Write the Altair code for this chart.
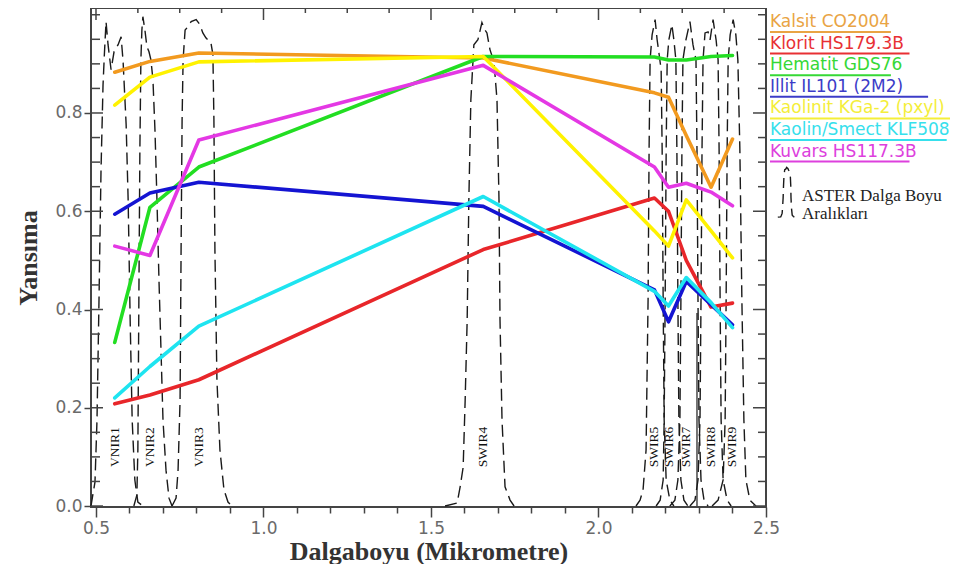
import altair as alt
import pandas as pd

# ---------------- data ----------------
band_names = ["VNIR1", "VNIR2", "VNIR3", "SWIR4", "SWIR5", "SWIR6", "SWIR7", "SWIR8", "SWIR9"]
band_center = [0.556, 0.661, 0.807, 1.656, 2.167, 2.209, 2.262, 2.336, 2.400]

minerals = ["Kalsit CO2004", "Klorit HS179.3B", "Hematit GDS76", "Illit IL101 (2M2)",
            "Kaolinit KGa-2 (pxyl)", "Kaolin/Smect KLF508", "Kuvars HS117.3B"]
line_colors = ["#F29A1F", "#E8262A", "#22DE22", "#1414D2", "#FFF200", "#1EE4F0", "#E438E4"]
text_colors = ["#E9A444", "#E83034", "#36D836", "#3C3CC8", "#F4EE3A", "#36E0EC", "#DD40DD"]

kalsit   = [0.883, 0.905, 0.922, 0.912, 0.841, 0.832, 0.754, 0.649, 0.747]
klorit   = [0.208, 0.226, 0.257, 0.522, 0.627, 0.600, 0.500, 0.405, 0.413]
hematit  = [0.333, 0.608, 0.690, 0.915, 0.914, 0.908, 0.908, 0.915, 0.917]
illit    = [0.594, 0.637, 0.659, 0.610, 0.440, 0.375, 0.457, 0.410, 0.369]
kaolinit = [0.816, 0.873, 0.904, 0.915, 0.560, 0.529, 0.623, 0.560, 0.505]
kaolsme  = [0.220, 0.284, 0.366, 0.630, 0.437, 0.407, 0.465, 0.414, 0.363]
kuvars   = [0.529, 0.510, 0.745, 0.897, 0.690, 0.649, 0.657, 0.639, 0.611]
series = [kalsit, klorit, hematit, illit, kaolinit, kaolsme, kuvars]

# ASTER band response curves (dashed)
vnir1_x = [0.485, 0.497, 0.503, 0.509, 0.515, 0.521, 0.525, 0.530, 0.536, 0.545, 0.554, 0.566, 0.575,
           0.581, 0.590, 0.596, 0.602, 0.608, 0.616, 0.625, 0.640]
vnir1_y = [0, 0.049, 0.175, 0.42, 0.684, 0.857, 0.919, 0.986, 0.939, 0.888, 0.925, 0.939, 0.955,
           0.904, 0.776, 0.623, 0.379, 0.175, 0.053, 0.008, 0]
vnir2_x = [0.613, 0.622, 0.625, 0.628, 0.631, 0.634, 0.637, 0.640, 0.646, 0.652, 0.658, 0.664, 0.670,
           0.676, 0.682, 0.688, 0.694, 0.700, 0.709, 0.718, 0.727]
vnir2_y = [0, 0.022, 0.114, 0.42, 0.725, 0.908, 0.969, 0.996, 0.969, 0.935, 0.925, 0.908, 0.868,
           0.766, 0.623, 0.46, 0.318, 0.175, 0.073, 0.016, 0]
vnir3_x = [0.727, 0.739, 0.745, 0.751, 0.754, 0.757, 0.760, 0.766, 0.775, 0.784, 0.799, 0.810, 0.819,
           0.828, 0.834, 0.843, 0.849, 0.852, 0.855, 0.861, 0.870, 0.882, 0.894, 0.906]
vnir3_y = [0, 0.016, 0.073, 0.216, 0.521, 0.786, 0.908, 0.969, 0.976, 0.986, 0.99, 0.98, 0.963,
           0.953, 0.949, 0.943, 0.919, 0.786, 0.521, 0.257, 0.114, 0.033, 0.008, 0]
swir4_x = [1.542, 1.578, 1.587, 1.596, 1.602, 1.608, 1.613, 1.619, 1.628, 1.640, 1.652, 1.661, 1.667,
           1.676, 1.688, 1.697, 1.703, 1.706, 1.712, 1.721, 1.736, 1.748]
swir4_y = [0, 0.006, 0.039, 0.079, 0.216, 0.379, 0.623, 0.827, 0.939, 0.949, 0.984, 0.969, 0.963,
           0.929, 0.904, 0.827, 0.623, 0.379, 0.175, 0.039, 0.012, 0]
swir5_x = [2.112, 2.124, 2.133, 2.142, 2.148, 2.151, 2.154, 2.160, 2.169, 2.175, 2.181, 2.187, 2.190,
           2.193, 2.196, 2.202, 2.213, 2.225]
swir5_y = [0, 0.012, 0.033, 0.114, 0.42, 0.725, 0.908, 0.959, 0.99, 0.949, 0.919, 0.888, 0.725,
           0.42, 0.175, 0.053, 0.012, 0]
swir6_x = [2.172, 2.184, 2.193, 2.196, 2.199, 2.202, 2.205, 2.210, 2.219, 2.225, 2.231, 2.234, 2.237,
           2.240, 2.246, 2.255, 2.267]
swir6_y = [0, 0.012, 0.053, 0.175, 0.42, 0.725, 0.908, 0.949, 0.98, 0.949, 0.908, 0.725, 0.42,
           0.175, 0.053, 0.012, 0]
swir7_x = [2.213, 2.228, 2.237, 2.243, 2.246, 2.249, 2.252, 2.261, 2.273, 2.282, 2.291, 2.294, 2.297,
           2.300, 2.306, 2.315, 2.327]
swir7_y = [0, 0.012, 0.053, 0.175, 0.42, 0.725, 0.908, 0.949, 0.986, 0.939, 0.908, 0.725, 0.42,
           0.175, 0.053, 0.012, 0]
swir8_x = [2.273, 2.288, 2.297, 2.303, 2.306, 2.309, 2.312, 2.318, 2.327, 2.333, 2.342, 2.351, 2.357,
           2.360, 2.363, 2.366, 2.372, 2.384, 2.396]
swir8_y = [0, 0.012, 0.053, 0.175, 0.42, 0.725, 0.908, 0.963, 0.965, 0.949, 0.99, 0.949, 0.908,
           0.725, 0.42, 0.175, 0.053, 0.012, 0]
swir9_x = [2.339, 2.357, 2.372, 2.378, 2.381, 2.384, 2.387, 2.393, 2.402, 2.410, 2.416, 2.422, 2.428,
           2.434, 2.440, 2.452, 2.470]
swir9_y = [0, 0.012, 0.053, 0.175, 0.42, 0.725, 0.908, 0.959, 0.99, 0.959, 0.908, 0.725, 0.42,
           0.175, 0.053, 0.012, 0]
curves_x = [vnir1_x, vnir2_x, vnir3_x, swir4_x, swir5_x, swir6_x, swir7_x, swir8_x, swir9_x]
curves_y = [vnir1_y, vnir2_y, vnir3_y, swir4_y, swir5_y, swir6_y, swir7_y, swir8_y, swir9_y]

# solid segment visible between SWIR7 and SWIR8
solid_x = [2.294, 2.294]
solid_y = [0.0, 0.393]

# axis ticks
x_ticks = [round(0.5 + 0.1 * i, 2) for i in range(21)]
y_ticks = [round(0.05 * i, 2) for i in range(21)]
top_ticks = [round(0.5 + 0.125 * i, 3) for i in range(17)]

aster_lines = ["ASTER Dalga Boyu", "Aralıkları"]

# ---------------- tables ----------------
mrows = []
for name, vals in zip(minerals, series):
    for k, (cx, v) in enumerate(zip(band_center, vals)):
        mrows.append({"name": name, "x": cx, "y": v, "k": k})
mineral_df = pd.DataFrame(mrows)

brows = []
for b, xs_, ys_ in zip(band_names, curves_x, curves_y):
    for i, (a, c) in enumerate(zip(xs_, ys_)):
        brows.append({"band": b, "x": a, "y": c, "i": i})
band_df = pd.DataFrame(brows)

label_df = pd.DataFrame({"band": band_names, "c": band_center})
solid_df = pd.DataFrame({"x": solid_x, "y": solid_y})
leg_df = pd.DataFrame({"name": minerals, "tc": text_colors, "i": list(range(len(minerals)))})
xt_df = pd.DataFrame({"v": top_ticks})
yt_df = pd.DataFrame({"v": y_ticks})

# ---------------- scales / axes ----------------
XMIN, XMAX = 0.4851, 2.5
YMIN, YMAX = -0.002, 1.0137
W, H = 675, 499
PXY = (YMAX - YMIN) / H
PXX = (XMAX - XMIN) / W

xs = alt.Scale(domain=[XMIN, XMAX], nice=False, zero=False)
ys = alt.Scale(domain=[YMIN, YMAX], nice=False, zero=False)

MAJ_X = "abs(datum.value*2 - round(datum.value*2)) < 0.001"
MAJ_Y = "abs(datum.value*5 - round(datum.value*5)) < 0.001 && datum.value < 0.99"

x_axis = alt.Axis(
    values=x_ticks, labelExpr=f"({MAJ_X}) ? format(datum.value, '.1f') : ''",
    tickSize={"condition": {"test": MAJ_X, "value": 10}, "value": 6},
    tickColor="#444", tickWidth=1.5, domain=False, grid=False,
    labelFont="DejaVu Sans", labelFontSize=17, labelColor="#6a6a6a", labelPadding=3,
    labelFlush=False, labelOverlap=False,
    title="Dalgaboyu (Mikrometre)", titleFont="Liberation Serif", titleFontWeight="bold",
    titleFontSize=26, titleColor="#333", titleX=W / 2, titleY=44, titleBaseline="middle",
    titleAlign="center",
)
y_axis = alt.Axis(
    values=y_ticks, labelExpr=f"({MAJ_Y}) ? format(datum.value, '.1f') : ''",
    tickSize={"condition": {"test": MAJ_Y, "value": 7}, "value": 0},
    tickColor="#444", tickWidth=1.5, domain=False, grid=False,
    labelFont="DejaVu Sans", labelFontSize=17, labelColor="#6a6a6a", labelPadding=2,
    labelFlush=False, labelOverlap=False,
    title="Yansıma", titleFont="Liberation Serif", titleFontWeight="bold",
    titleFontSize=26, titleColor="#333", titleX=-63, titleY=H / 2, titleAngle=270,
    titleBaseline="middle", titleAlign="center",
)


def X(f):
    return alt.X(f"{f}:Q", scale=xs, axis=x_axis)


def Y(f):
    return alt.Y(f"{f}:Q", scale=ys, axis=y_axis)


# ---------------- layers ----------------
bands = alt.Chart(band_df).mark_line(color="#1a1a1a", strokeWidth=1.4, strokeDash=[12, 6]).encode(
    x=X("x"), y=Y("y"), detail="band:N", order="i:Q")

solid = alt.Chart(solid_df).mark_line(color="#1a1a1a", strokeWidth=1.2).encode(x=X("x"), y=Y("y"))

mlayers = []
for name, col in zip(minerals, line_colors):
    mlayers.append(
        alt.Chart(mineral_df).transform_filter(alt.datum.name == name)
        .mark_line(color=col, strokeWidth=3.6, strokeJoin="round", strokeCap="round")
        .encode(x=X("x"), y=Y("y"), order="k:Q"))

labels = alt.Chart(label_df).mark_text(
    angle=270, align="center", baseline="middle", font="Liberation Serif", fontSize=13.5, color="#111"
).encode(x=X("c"), y=alt.value(439), text="band:N")

tick_style = dict(color="#444", strokeWidth=1.5)
MAJ_V = MAJ_Y.replace("datum.value", "datum.v")
left_major = alt.Chart(yt_df).transform_filter(MAJ_V).mark_rule(**tick_style).encode(
    y=Y("v"), x=alt.value(0), x2=alt.value(12))
left_minor = alt.Chart(yt_df).transform_filter("!(" + MAJ_V + ")").mark_rule(**tick_style).encode(
    y=Y("v"), x=alt.value(0), x2=alt.value(9))
right_major = alt.Chart(yt_df).transform_filter(MAJ_V).mark_rule(**tick_style).encode(
    y=Y("v"), x=alt.value(W), x2=alt.value(W - 13))
right_minor = alt.Chart(yt_df).transform_filter("!(" + MAJ_V + ")").mark_rule(**tick_style).encode(
    y=Y("v"), x=alt.value(W), x2=alt.value(W - 8))
MAJ_T = "abs(datum.v*2 - round(datum.v*2)) < 0.001"
top_major = alt.Chart(xt_df).transform_filter(MAJ_T).mark_rule(**tick_style).encode(
    x=X("v"), y=alt.value(0), y2=alt.value(12))
top_minor = alt.Chart(xt_df).transform_filter("!(" + MAJ_T + ")").mark_rule(**tick_style).encode(
    x=X("v"), y=alt.value(0), y2=alt.value(5))

# legend (coloured, underlined names)
LX = XMAX + 4 * PXX
leg_base = alt.Chart(leg_df).transform_calculate(
    lx=f"{LX}",
    ly=f"{YMAX} - (19 + 21.6*datum.i)*{PXY}",
    uy=f"{YMAX} - (24 + 21.6*datum.i)*{PXY}",
    lx2=f"{LX} + min(length(datum.name)*9.3, 180)*{PXX}",
)
leg_text = leg_base.mark_text(align="left", baseline="alphabetic", font="DejaVu Sans", fontSize=17).encode(
    x=X("lx"), y=Y("ly"), text="name:N", color=alt.Color("tc:N", scale=None, legend=None))
leg_line = leg_base.mark_rule(strokeWidth=2).encode(
    x=X("lx"), x2="lx2:Q", y=Y("uy"), color=alt.Color("tc:N", scale=None, legend=None))

# ASTER legend: a small copy of a response curve + text
sym = alt.Chart(band_df).transform_filter(alt.datum.band == "SWIR4").transform_calculate(
    sx="2.56 + (datum.x - 1.645)*0.24", sy="0.588 + datum.y*0.103"
).mark_line(color="#1a1a1a", strokeWidth=1.4, strokeDash=[10, 6]).encode(
    x=X("sx"), y=Y("sy"), order="i:Q")
aster_txt = [
    alt.Chart(pd.DataFrame({"t": [t]})).mark_text(
        align="left", baseline="alphabetic", font="Liberation Serif", fontSize=17, color="#222"
    ).encode(x=alt.value(711), y=alt.value(193 + 18 * j), text="t:N")
    for j, t in enumerate(aster_lines)
]

chart = alt.layer(
    bands, solid, *mlayers, labels,
    left_major, left_minor, right_major, right_minor, top_major, top_minor,
    leg_line, leg_text, sym, *aster_txt,
).properties(
    width=W, height=H,
    padding={"left": 83, "top": 0, "right": 190, "bottom": 57},
    autosize=alt.AutoSizeParams(type="none"),
    background="white",
).configure_view(stroke="#444", strokeWidth=2)

chart.save("out.html", embed_options={"renderer": "svg", "actions": False})
